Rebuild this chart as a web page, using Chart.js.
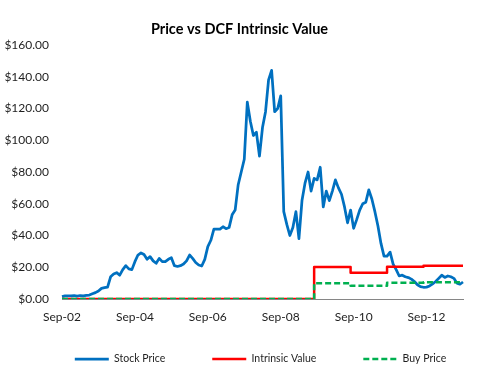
<!DOCTYPE html>
<html>
<head>
<meta charset="utf-8">
<script src="https://cdn.jsdelivr.net/npm/chart.js@4.4.1/dist/chart.umd.min.js"></script>
<style>
  html, body { margin: 0; padding: 0; background: #fff; }
  #wrap { width: 479px; height: 377px; }
</style>
</head>
<body>
<div id="wrap"><canvas id="chart" width="479" height="377"></canvas></div>
<script>
    // monthly points, Sep-02 .. Sep-13
    const monthNames = ["Jan", "Feb", "Mar", "Apr", "May", "Jun", "Jul", "Aug", "Sep", "Oct", "Nov", "Dec"];
    const months = [];
    for (let i = 0; i < 133; i++) {
        const n = 8 + i;
        months.push(monthNames[n % 12] + "-" + String(2 + Math.floor(n / 12)).padStart(2, "0"));
    }

    const tickLabels = ["Sep-02", "Sep-04", "Sep-06", "Sep-08", "Sep-10", "Sep-12"];

    // one row per year, starting in September
    const stockPrice = [
        1.5, 2, 2, 2, 2.2, 1.8, 2.2, 2, 2.3, 2.5, 3.3, 4,
        5, 6.7, 7.2, 7.5, 14, 15.7, 16.6, 15, 18.5, 21, 19, 18.5,
        23.5, 27.7, 29, 28, 25, 26.7, 24, 22.5, 25.6, 23.5, 23.5, 25,
        26, 21, 20.5, 21, 22, 24, 27.7, 25.6, 23, 21.4, 20.8, 25,
        33, 37, 44, 44, 44, 45.5, 44.3, 45, 53, 56, 72, 80,
        88, 124, 112, 103, 105, 90, 108, 118, 138, 144, 118, 120,
        128, 55, 47, 40, 45, 55, 38, 62, 73, 80, 68, 76,
        75, 83, 58, 68, 62, 68, 75, 70, 66, 58, 48, 56,
        44.5, 50, 56, 60, 61, 68.7, 63, 55, 46, 35, 27, 27,
        29.5, 22, 18.5, 14.5, 15, 14, 13.5, 12.5, 11, 9, 7.8, 7.4,
        7.5, 8.2, 9.5, 11, 13, 15, 13.6, 14.5, 14, 13, 10, 9.3,
        10.7
    ];

    const intrinsicValue = [
        0, 0, 0, 0, 0, 0, 0, 0, 0, 0, 0, 0,
        0, 0, 0, 0, 0, 0, 0, 0, 0, 0, 0, 0,
        0, 0, 0, 0, 0, 0, 0, 0, 0, 0, 0, 0,
        0, 0, 0, 0, 0, 0, 0, 0, 0, 0, 0, 0,
        0, 0, 0, 0, 0, 0, 0, 0, 0, 0, 0, 0,
        0, 0, 0, 0, 0, 0, 0, 0, 0, 0, 0, 0,
        0, 0, 0, 0, 0, 0, 0, 0, 0, 0, 0, 20.1,
        20.1, 20.1, 20.1, 20.1, 20.1, 20.1, 20.1, 20.1, 20.1, 20.1, 20.1, 16.6,
        16.6, 16.6, 16.6, 16.6, 16.6, 16.6, 16.6, 16.6, 16.6, 16.6, 16.6, 20.3,
        20.3, 20.3, 20.3, 20.3, 20.3, 20.3, 20.3, 20.3, 20.3, 20.3, 20.3, 21,
        21, 21, 21, 21, 21, 21, 21, 21, 21, 21, 21, 21,
        21
    ];

    const buyPrice = [
        0, 0, 0, 0, 0, 0, 0, 0, 0, 0, 0, 0,
        0, 0, 0, 0, 0, 0, 0, 0, 0, 0, 0, 0,
        0, 0, 0, 0, 0, 0, 0, 0, 0, 0, 0, 0,
        0, 0, 0, 0, 0, 0, 0, 0, 0, 0, 0, 0,
        0, 0, 0, 0, 0, 0, 0, 0, 0, 0, 0, 0,
        0, 0, 0, 0, 0, 0, 0, 0, 0, 0, 0, 0,
        0, 0, 0, 0, 0, 0, 0, 0, 0, 0, 0, 10,
        10, 10, 10, 10, 10, 10, 10, 10, 10, 10, 10, 8.3,
        8.3, 8.3, 8.3, 8.3, 8.3, 8.3, 8.3, 8.3, 8.3, 8.3, 8.3, 10.2,
        10.2, 10.2, 10.2, 10.2, 10.2, 10.2, 10.2, 10.2, 10.2, 10.2, 10.2, 10.5,
        10.5, 10.5, 10.5, 10.5, 10.5, 10.5, 10.5, 10.5, 10.5, 10.5, 10.5, 10.5,
        10.5
    ];

    Chart.defaults.font.family = "Lato, 'Open Sans', sans-serif";
    Chart.defaults.color = "#1e1e1e";

    // legend: centred under the plot area, just below the axis labels
    const placeLegend = {
        id: "placeLegend",
        afterLayout: function (chart) {
            const lg = chart.legend;
            const ca = chart.chartArea;
            const dx = (ca.left + ca.right) / 2 - 2 - (lg.left + lg.right) / 2;
            lg.left += dx;
            lg.right += dx;
            lg.top = ca.bottom + 7.75;
            lg.bottom = chart.height;
        }
    };

    const ctx = document.getElementById("chart").getContext("2d");
    new Chart(ctx, {
        type: "line",
        data: {
            labels: months,
            datasets: [
                { label: "Stock Price", data: stockPrice, borderColor: "#0070C0", borderWidth: 2.75, order: 3 },
                { label: "Intrinsic Value", data: intrinsicValue, borderColor: "#FF0000", borderWidth: 2.5, stepped: true, order: 2 },
                { label: "Buy Price", data: buyPrice, borderColor: "#00B050", borderWidth: 2.5, borderDash: [6, 3], stepped: true, order: 1 }
            ]
        },
        options: {
            responsive: false,
            animation: false,
            elements: {
                point: { radius: 0 },
                line: { tension: 0, borderJoinStyle: "round" }
            },
            layout: { padding: { top: 0, left: 0, right: 0, bottom: 0 } },
            scales: {
                x: {
                    grid: { display: false, drawTicks: false },
                    border: { color: "#868686", width: 1 },
                    ticks: {
                        autoSkip: false,
                        maxRotation: 0,
                        padding: 11,
                        font: { size: 12 },
                        callback: function (v, i) {
                            return tickLabels.includes(months[i]) ? months[i] : "";
                        }
                    },
                    afterFit: function (s) {
                        s.height = 58;
                        s.paddingRight = 16;
                    }
                },
                y: {
                    min: 0,
                    max: 160,
                    grid: { display: false, drawTicks: false },
                    border: { display: false },
                    ticks: {
                        stepSize: 20,
                        padding: 13,
                        font: { size: 12 },
                        callback: function (v) { return "$" + v.toFixed(2); }
                    },
                    afterFit: function (s) { s.width = 62; }
                }
            },
            plugins: {
                title: {
                    display: true,
                    text: "Price vs DCF Intrinsic Value",
                    color: "#000",
                    font: { size: 14.5, weight: "bold" },
                    padding: { top: 21, bottom: 6.6 }
                },
                legend: {
                    position: "bottom",
                    maxHeight: 20,
                    labels: {
                        usePointStyle: true,
                        pointStyle: "line",
                        pointStyleWidth: 34,
                        padding: 47,
                        font: { size: 10.5 },
                        generateLabels: function (chart) {
                            const items = Chart.defaults.plugins.legend.labels.generateLabels(chart);
                            items.forEach(function (it) {
                                const ds = chart.data.datasets[it.datasetIndex];
                                it.lineDash = ds.borderDash || [];
                                it.lineWidth = ds.borderWidth;
                                it.strokeStyle = ds.borderColor;
                            });
                            return items.sort(function (a, b) { return a.datasetIndex - b.datasetIndex; });
                        }
                    }
                },
                tooltip: { enabled: false }
            }
        },
        plugins: [placeLegend]
    });
</script>
</body>
</html>
